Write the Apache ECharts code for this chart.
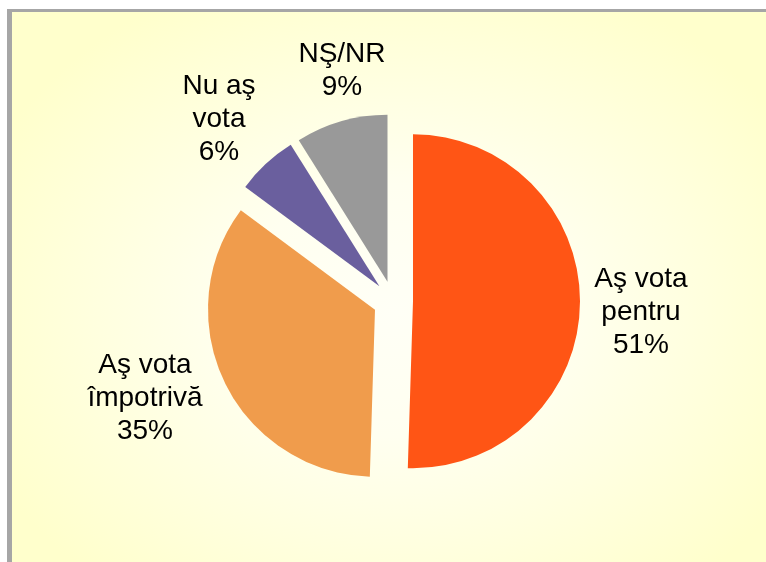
<!DOCTYPE html>
<html>
<head>
<meta charset="utf-8">
<script src="https://cdn.jsdelivr.net/npm/echarts@6/dist/echarts.min.js"></script>
<style>
  html, body { margin: 0; padding: 0; width: 766px; height: 562px; background: #ffffff; overflow: hidden; }
  #frame {
    position: absolute; left: 7px; top: 9px; width: 754px; height: 553px;
    border-left: 5px solid #a6a6a6; border-top: 3px solid #a6a6a6;
    background: radial-gradient(ellipse 60% 65% at 51% 54%, #fffff6 0%, #fffff0 35%, #ffffcc 100%);
  }
  #chart { position: absolute; left: 0; top: 0; width: 766px; height: 562px; }
</style>
</head>
<body>
<div id="frame"></div>
<div id="chart"></div>
<script>
// Data
const categories = ['Aş vota\npentru', 'Aş vota\nîmpotrivă', 'Nu aş\nvota', 'NŞ/NR'];
const values = [51, 35, 6, 9];
const colors = ['#ff5515', '#f09c4c', '#6a5f9e', '#999999'];
// label placement (text centres, px)
const labelCenters = [[641, 312], [145, 398], [219, 119], [342, 71]];

const chart = echarts.init(document.getElementById('chart'), null, { renderer: 'canvas' });
chart.setOption({
  backgroundColor: 'transparent',
  animation: false,
  graphic: categories.map(function (n, i) {
    return {
      type: 'text',
      x: labelCenters[i][0],
      y: labelCenters[i][1],
      silent: true,
      style: {
        text: n + '\n' + values[i] + '%',
        fill: '#000000',
        font: '28px "Liberation Sans", Arial, sans-serif',
        lineHeight: 33,
        textAlign: 'center',
        textVerticalAlign: 'middle',
        align: 'center',
        verticalAlign: 'middle'
      }
    };
  }),
  series: [{
    type: 'pie',
    center: [393, 301],
    radius: 167,
    startAngle: 90,
    clockwise: true,
    selectedMode: 'multiple',
    selectedOffset: 20,
    avoidLabelOverlap: false,
    emphasis: { scale: false, disabled: true },
    itemStyle: { borderWidth: 0 },
    label: { show: false },
    labelLine: { show: false },
    data: categories.map(function (n, i) {
      return { name: n, value: values[i], selected: true, itemStyle: { color: colors[i] } };
    })
  }]
});
</script>
</body>
</html>
